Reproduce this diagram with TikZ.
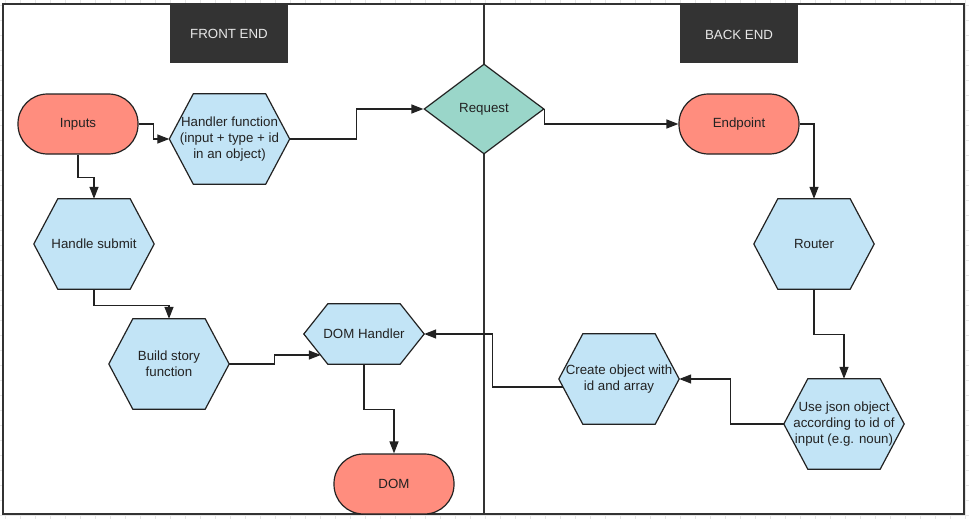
\documentclass[tikz,border=0pt]{standalone}
\usepackage{fontspec}
\setmainfont{Liberation Sans}
\usetikzlibrary{arrows.meta,shapes.geometric,calc,backgrounds}
\definecolor{salmon}{RGB}{255,141,126}
\definecolor{hexblue}{RGB}{194,228,246}
\definecolor{reqteal}{RGB}{154,214,201}
\definecolor{darkbox}{RGB}{51,51,51}
\definecolor{headtxt}{RGB}{232,232,232}
\definecolor{ink}{RGB}{34,34,34}
\definecolor{gridc}{RGB}{230,230,230}
\begin{document}
\begin{tikzpicture}[x=1pt,y=-1pt,
  lbl/.style={font=\fontsize{13.3pt}{16pt}\selectfont, text=ink, align=center, inner sep=0pt},
  term/.style={lbl, rectangle, rounded corners=29.5pt, draw=ink, line width=1.2pt, fill=salmon, minimum width=120pt, minimum height=60pt},
  hexa/.style={lbl, rectangle, minimum width=120pt, minimum height=#1},
  hexa/.default=90pt,
  dec/.style={lbl, diamond, draw=ink, line width=1.2pt, fill=reqteal, minimum width=120pt, minimum height=90pt},
  head/.style={lbl, rectangle, fill=darkbox, text=headtxt, minimum width=118pt, minimum height=58pt},
  conn/.style={draw=ink, line width=1.3pt, -{Triangle[length=12pt,width=9pt]}},
  hexline/.style={draw=ink, line width=1.2pt, fill=hexblue, line join=miter},
  frameline/.style={draw=darkbox, line width=1.6pt}
]
\useasboundingbox (0,0) rectangle (969,519);

% nodes
\node[term] (in) at (78,124) {Inputs};
\node[hexa] (hf) at (229.5,139) {Handler function\\(input + type + id\\in an object)};
\node[hexa] (hs) at (94,244) {Handle submit};
\node[hexa] (bs) at (169,364) {Build story\\function};
\node[hexa=60pt] (dh) at (364,334) {DOM Handler};
\node[hexa] (rt) at (814,244) {Router};
\node[hexa] (co) at (619,379) {Create object with\\id and array};
\node[hexa] (uj) at (844,424) {Use json object\\according to id of\\input (e.g. noun)};

\begin{pgfonlayer}{background}
  \fill[white] (0,0) rectangle (969,519);
  \foreach \x in {5,20,...,965} \draw[gridc, line width=0.5pt] (\x,0) -- (\x,519);
  \foreach \y in {5,20,...,515} \draw[gridc, line width=0.5pt] (0,\y) -- (969,\y);
  \fill[white] (3,4) rectangle (964,514);
  \foreach \n in {hf,hs,bs,dh,rt,co,uj}
    \draw[hexline] (\n.west) -- ($(\n.north west)+(24,0)$) -- ($(\n.north east)+(-24,0)$)
      -- (\n.east) -- ($(\n.south east)+(-24,0)$) -- ($(\n.south west)+(24,0)$) -- cycle;
\end{pgfonlayer}

% frame and divider
\draw[frameline] (3,4) rectangle (964,514);
\draw[frameline] (484,4) -- (484,514);

% headers
\node[head] (fe) at (229,34) {FRONT END};
\node[head] (be) at (739,34.5) {BACK END};

\node[dec] (rq) at (484,109) {\raisebox{2pt}{Request}};
\node[term] (ep) at (739,124) {Endpoint};
\node[term] (dom) at (394,484) {DOM};

\coordinate (dhin) at ($(dh.west)+(17,21)$);
\coordinate (coout) at ($(co.west)+(4,8)$);

% connectors
\draw[conn] (in.east) -- ++(15,0) |- (hf.west);
\draw[conn] (in.south) -- ++(0,23) -| (hs.north);
\draw[conn] (hf.east) -- ++(66.5,0) |- (rq.west);
\draw[conn] (rq.east) |- (ep.west);
\draw[conn] (ep.east) -| (rt.north);
\draw[conn] (hs.south) -- ++(0,16) -| (bs.north);
\draw[conn] (bs.east) -- ++(45,0) |- (dhin);
\draw[conn] (dh.south) -- ++(0,45) -| (dom.north);
\draw[conn] (rt.south) -- ++(0,45) -| (uj.north);
\draw[conn] (uj.west) -- ++(-53,0) |- (co.east);
\draw[conn] (coout) -- ++(-70,0) |- (dh.east);
\end{tikzpicture}
\end{document}
